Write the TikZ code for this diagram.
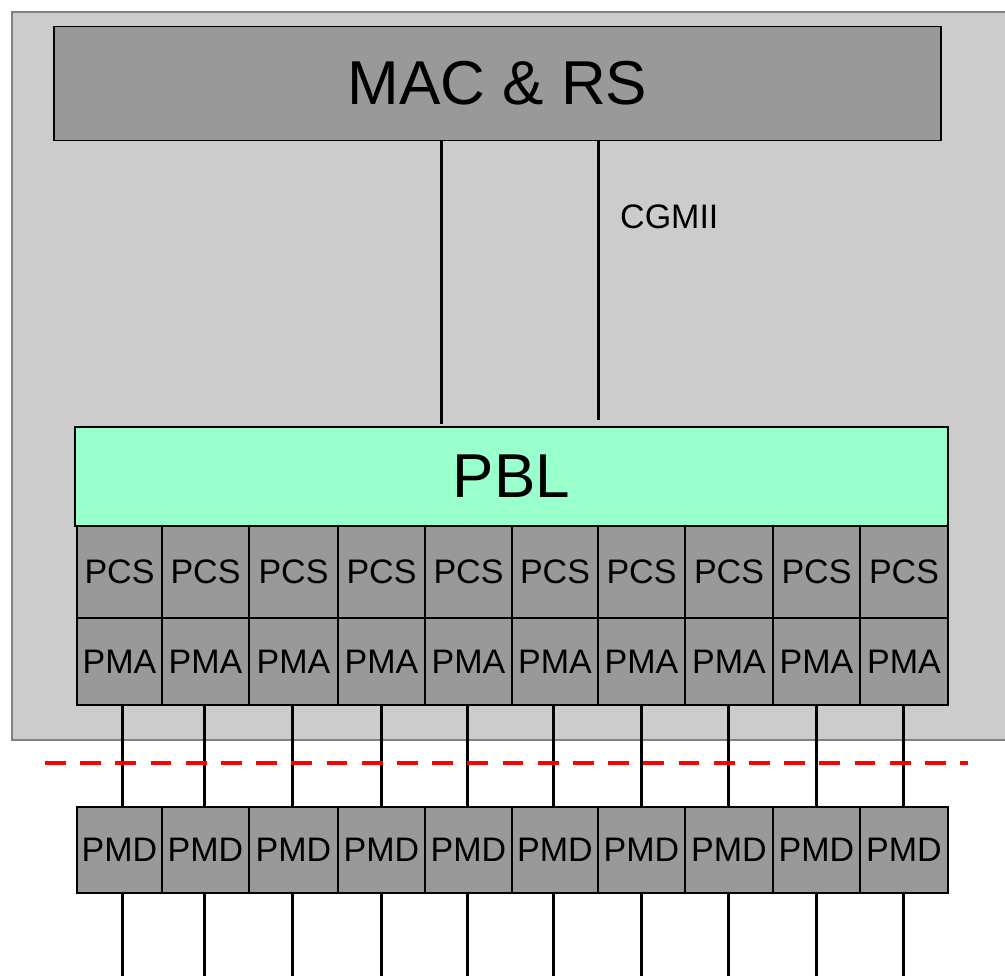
\documentclass[tikz,border=0pt]{standalone}
\usepackage{fontspec}
\setmainfont{Liberation Sans}
\definecolor{outergray}{HTML}{CCCCCC}
\definecolor{outerline}{HTML}{808080}
\definecolor{boxgray}{HTML}{999999}
\definecolor{pblgreen}{HTML}{99FFCC}
\definecolor{dashred}{HTML}{FF0000}
\begin{document}
\begin{tikzpicture}[x=1pt,y=-1pt,
  bigbox/.style={draw=black, line width=1.5pt, inner sep=0pt, font=\fontsize{62}{70}\selectfont},
  cell/.style={draw=black, line width=1.5pt, fill=boxgray, inner sep=0pt, font=\fontsize{34}{40}\selectfont},
  conn/.style={draw=black, line width=3pt},
  lbl/.style={inner sep=0pt, font=\fontsize{34}{40}\selectfont}]
\useasboundingbox (0,0) rectangle (1005,976);
\clip (0,0) rectangle (1005,976);
% outer grey region
\draw[draw=outerline, fill=outergray, line width=2pt] (12,12) rectangle (1020,740);
% MAC & RS
\node[bigbox, fill=boxgray, minimum width=887pt, minimum height=114pt] (mac) at (497.5,83.5) {MAC \& RS};
% PBL
\node[bigbox, fill=pblgreen, minimum width=873pt, minimum height=99pt] (pbl) at (511.5,476.5) {PBL};
% CGMII connectors
\coordinate (cg1) at (441,0);
\coordinate (cg2) at (598,0);
\draw[conn] (mac.south -| cg1) -- ([yshift=2pt]pbl.north -| cg1);
\draw[conn] (mac.south -| cg2) -- ([yshift=6pt]pbl.north -| cg2);
\node[lbl, anchor=west] (cgmii) at (620,217) {CGMII};
% lanes
\foreach \i/\l/\r/\lx in {1/77/162/122, 2/162/249/204, 3/249/338/292, 4/338/425/381, 5/425/512/467, 6/512/598/553, 7/598/685/641, 8/685/773/728, 9/773/860/816, 10/860/948/903}{
  \pgfmathsetmacro\w{\r-\l}
  \pgfmathsetmacro\cx{(\l+\r)/2}
  \node[cell, minimum width=\w pt, minimum height=92pt] (pcs\i) at (\cx,572) {PCS};
  \node[cell, minimum width=\w pt, minimum height=87pt] (pma\i) at (\cx,661.5) {PMA};
  \node[cell, minimum width=\w pt, minimum height=86pt] (pmd\i) at (\cx,850) {PMD};
  \coordinate (x\i) at (\lx,0);
  \coordinate (b\i) at (\lx,980);
  \draw[conn] (pma\i.south -| x\i) -- (pmd\i.north -| x\i);
  \draw[conn] ([yshift=2pt]pmd\i.south -| x\i) -- (b\i);
}
% red dashed boundary
\coordinate (dl) at (45,763);
\coordinate (dr) at (968,763);
\draw[draw=dashred, line width=4pt, dash pattern=on 20.7pt off 14.5pt] (dl) -- (dr);
\end{tikzpicture}
\end{document}
